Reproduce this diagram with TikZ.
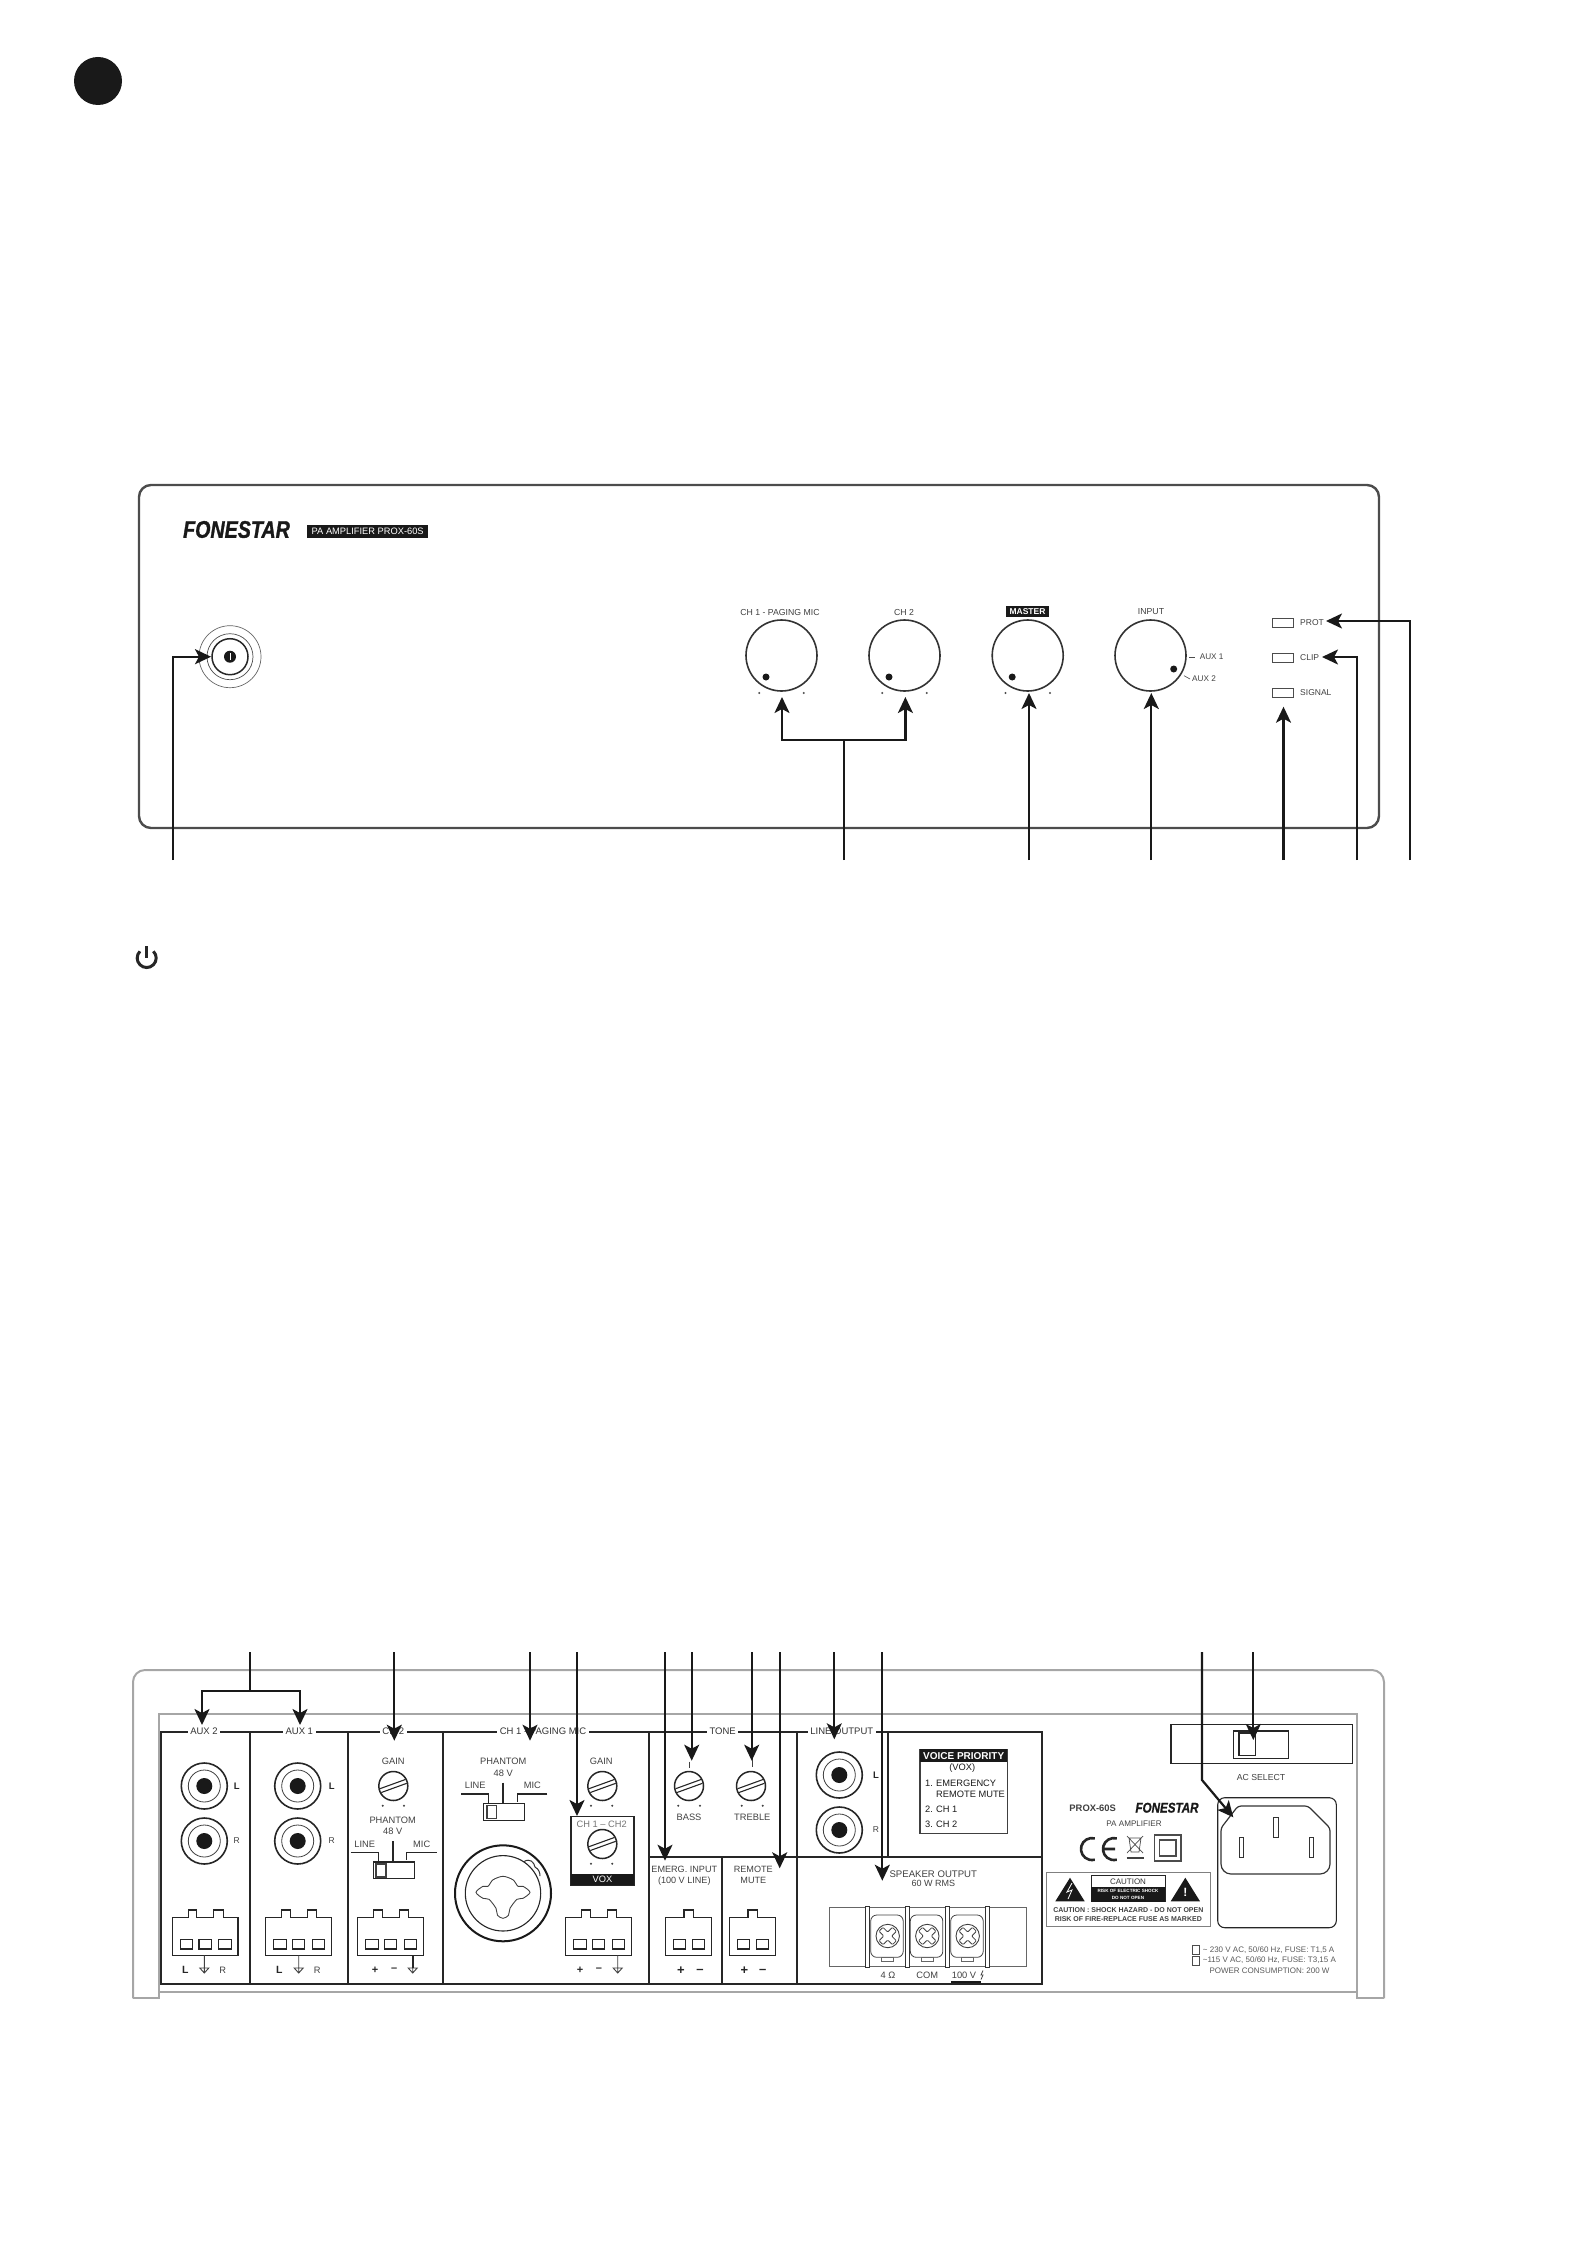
\documentclass[tikz,border=0pt]{standalone}
\usepackage{fontspec}
\setmainfont{Liberation Sans}
\newfontfamily\logofont[BoldItalicFeatures={FakeBold=1.4}]{Liberation Sans}
\usetikzlibrary{arrows.meta,calc}
\tikzset{
  callout/.style={line width=2.2pt,black!90,-{Stealth[length=16pt,width=15pt,inset=4pt]}},
  bracket/.style={line width=2.2pt,black!90},
  shell/.style={line width=2pt,black!35},
  frameline/.style={line width=2pt,black!85},
  thinline/.style={line width=1.1pt,black!85},
  lbl/.style={font=\fontsize{9.3}{10}\selectfont,text=black!75,inner sep=0pt},
  smalllbl/.style={font=\fontsize{8.5}{10}\selectfont,text=black!75,inner sep=0pt},
  boldlbl/.style={font=\fontsize{9.5}{10}\selectfont\bfseries,text=black!85,inner sep=0pt},
  toplbl/.style={font=\fontsize{9.5}{10}\selectfont,text=black!80,fill=white,inner xsep=2.5pt,inner ysep=1pt},
  logo/.style={font=\logofont\fontsize{#1}{#1}\selectfont\bfseries\itshape,text=black!90,inner sep=0pt},
  invert/.style={fill=black!90,text=white,inner sep=0pt,font=\fontsize{#1}{10}\selectfont\bfseries},
}

\begin{document}
\begin{tikzpicture}[x=1pt,y=-1pt]
            \useasboundingbox (0,0) rectangle (1587,2245);

            % Draw the section mark and the power sign
            \fill[black!90] (98,81) circle (24pt);
            \draw[line width=3pt,black!85] (153.4,951.3) arc (45:-225:9.5pt);
            \draw[line width=3pt,black!85] (146.7,946) -- (146.7,958);

            % Draw the front panel
            \draw[line width=2.4pt,black!70,rounded corners=12pt] (139,485) rectangle (1379,828);
            \node[logo=24,xscale=.82] (frontlogo) at (236.5,529.5) {FONESTAR};
            \node[invert=9.3,minimum width=120.5pt,minimum height=13pt,font=\fontsize{9.3}{10}\selectfont] (frontmodel) at (367.7,531.5) {PA AMPLIFIER PROX-60S};

            % Draw the power button
            \draw[line width=.7pt,black!60] (230,656.7) circle (31pt);
            \draw[line width=.7pt,black!70] (230,656.7) circle (23pt);
            \draw[line width=1.5pt,black!85] (230,656.7) circle (18pt);
            \fill[black!90] (230,656.7) circle (6pt);
            \draw[white,line width=.8pt] (230,653) -- (230,660);

            % Draw the knobs
            \foreach \x in {781.5,904.5,1027.7,1150.5} {
              \draw[line width=1.6pt,black!80] (\x,655.5) circle (35.5pt);
            }
            \foreach \x in {781.5,904.5,1027.7} {
              \fill[black!90] (\x-15.5,677) circle (3.5pt);
              \fill[black!70] (\x-22.3,693) circle (1.1pt);
              \fill[black!70] (\x+22.3,693) circle (1.1pt);
            }
            \fill[black!90] (1173.7,669) circle (3.5pt);
            \draw[line width=.6pt,black!70] (1189,657) -- (1195,657);
            \draw[line width=.6pt,black!70] (1184,675.7) -- (1190,679);

            % Add labels for the knobs
            \node[lbl,font=\fontsize{8.7}{10}\selectfont] (labelchone) at (780,612) {CH 1 - PAGING MIC};
            \node[lbl,font=\fontsize{8.7}{10}\selectfont] (labelchtwo) at (904,612) {CH 2};
            \node[invert=8.5,minimum width=43pt,minimum height=11pt] (labelmaster) at (1027.5,611.3) {MASTER};
            \node[lbl,font=\fontsize{8.7}{10}\selectfont] (labelinput) at (1151,611.5) {INPUT};
            \node[smalllbl,anchor=west,font=\fontsize{8.2}{10}\selectfont] (labelauxone) at (1199.6,657) {AUX 1};
            \node[smalllbl,anchor=west,font=\fontsize{8.2}{10}\selectfont] (labelauxtwo) at (1192,679) {AUX 2};

            % Draw the LEDs
            \foreach \name/\y/\txt in {prot/622.5/PROT,clip/657.5/CLIP,signal/692.5/SIGNAL} {
              \draw[line width=.9pt,black!70] (1272,\y-4.5) rectangle (1293,\y+4.5);
              \node[smalllbl,anchor=west] (led\name) at (1300,\y) {\txt};
            }

            % Draw the rear shell
            \draw[shell,rounded corners=12pt] (133,1998.3) -- (133,1670) -- (1384,1670) -- (1384,1998.3);
            \draw[shell] (133,1998.3) -- (159.3,1998.3) -- (159.3,1714) -- (1357,1714) -- (1357,1998.3) -- (1384,1998.3);
            \draw[shell] (159.3,1991.7) -- (1357,1991.7);

            % Draw the frame of the connector field
            \draw[frameline] (161.3,1731.7) rectangle (1041.7,1984);
            \foreach \x in {250.3,348.3,443,649,797.3} {
              \draw[frameline] (\x,1731.7) -- (\x,1984);
            }
            \draw[frameline] (888.3,1731.7) -- (888.3,1857.3);
            \draw[frameline] (722.3,1857.3) -- (722.3,1984);
            \draw[frameline] (649,1857.3) -- (1041.7,1857.3);

            % Add labels on the top edge of the frame
            \foreach \name/\x/\txt in {auxtwo/204/AUX 2,auxone/299.3/AUX 1,chtwo/393.3/CH 2,chone/543/CH 1 - PAGING MIC,tone/722.7/TONE,lineout/841.8/LINE OUTPUT} {
              \node[toplbl] (top\name) at (\x,1731.7) {\txt};
            }

            % Draw the RCA sockets
            \foreach \name/\x/\y in {atl/204.3/1786,atr/204.3/1841,aol/297.7/1786,aor/297.7/1841,lol/839.3/1775,lor/839.3/1830} {
              \draw[line width=1.6pt,black!85] (\x,\y) circle (23pt);
              \draw[line width=.8pt,black!75] (\x,\y) circle (16pt);
              \fill[black!90] (\x,\y) circle (8pt);
            }
            \foreach \name/\x/\y in {atl/236.7/1786,aol/331.7/1786,lol/876/1775} {
              \node[boldlbl] (letterL\name) at (\x,\y) {L};
            }
            \foreach \name/\x/\y in {atr/236.7/1841,aor/331.7/1841,lor/876/1830} {
              \node[lbl,font=\fontsize{8.5}{10}\selectfont] (letterR\name) at (\x,\y) {R};
            }

            % Draw the terminal blocks
            \foreach \x in {172.3,265.7,357.7,565.7} {
              \draw[thinline] (\x,1917.7) -- (\x+16,1917.7) -- (\x+16,1910) -- (\x+24.4,1910) -- (\x+24.4,1917.7) -- (\x+41.4,1917.7) -- (\x+41.4,1910) -- (\x+51,1910) -- (\x+51,1917.7) -- (\x+65.7,1917.7) -- (\x+65.7,1955.3) -- (\x,1955.3) -- cycle;
              \foreach \d in {8,26.7,46.5} {
                \draw[thinline] (\x+\d,1939.3) rectangle (\x+\d+12.5,1949);
              }
            }
            \foreach \x in {665.7,729.7} {
              \draw[thinline] (\x,1917.7) -- (\x+18.3,1917.7) -- (\x+18.3,1910) -- (\x+27.5,1910) -- (\x+27.5,1917.7) -- (\x+46,1917.7) -- (\x+46,1955.3) -- (\x,1955.3) -- cycle;
              \foreach \d in {7.6,26.6} {
                \draw[thinline] (\x+\d,1939.3) rectangle (\x+\d+12.5,1949);
              }
            }

            % Add marks below the terminal blocks
            \foreach \x in {204.3,298.7,412.7,617.7} {
              \draw[line width=.9pt,black!75] (\x,1955.3) -- (\x,1973) (\x-4.5,1968) -- (\x+4.5,1968) -- (\x,1973) -- cycle;
            }
            \draw[line width=2pt,black!85] (412.7,1955.3) -- (412.7,1968);
            \foreach \name/\x/\txt in {auxtwol/185.3/L,auxonel/279.3/L} {
              \node[boldlbl,font=\fontsize{10.5}{10}\selectfont\bfseries] (pin\name) at (\x,1970) {\txt};
            }
            \foreach \name/\x/\txt in {auxtwor/222.7/R,auxoner/317.3/R} {
              \node[lbl] (pin\name) at (\x,1970) {\txt};
            }
            \foreach \name/\x/\y/\txt in {a/375/1970/+,b/394.3/1970/--,c/580/1970/+,d/599/1970/--} {
              \node[boldlbl,font=\fontsize{11}{10}\selectfont\bfseries] (sign\name) at (\x,\y) {\txt};
            }
            \foreach \name/\x/\y/\txt in {e/681/1971/+,f/700/1971/--,g/744.3/1971/+,h/762.7/1971/--} {
              \node[boldlbl,font=\fontsize{13}{10}\selectfont\bfseries] (sign\name) at (\x,\y) {\txt};
            }

            % Draw the gain and tone pots
            \foreach \x/\y/\dl/\dr in {393.3/1786/382.7/404,602.3/1786/591/612.3,689/1786/678.3/700,751/1786/741.7/762.7,602.3/1844/591/612.3} {
              \draw[line width=1.5pt,black!85] (\x,\y) circle (14.5pt);
              \draw[thinline,shift={(\x,\y)}] (-12,6.5) -- (13.4,-2.7) (-13.4,2.7) -- (12,-6.5);
              \fill[black!75] (\dl,\y+19.7) circle (1.1pt);
              \fill[black!75] (\dr,\y+19.7) circle (1.1pt);
            }
            \draw[line width=.9pt,black!75] (689,1761.7) -- (689,1767.7);
            \draw[line width=.9pt,black!75] (752,1758) -- (752,1767);

            % Add labels for the pots
            \node[lbl] (gaintwo) at (393.3,1761) {GAIN};
            \node[lbl] (gainone) at (601.3,1761.7) {GAIN};
            \node[lbl] (bass) at (689,1817.7) {BASS};
            \node[lbl] (treble) at (752.3,1817.7) {TREBLE};

            % Draw the phantom switches
            \foreach \name/\x/\y in {two/392.7/1820,one/503.3/1761.7} {
              \node[lbl] (phantom\name) at (\x,\y) {PHANTOM};
              \node[lbl] (volts\name) at (\x,\y+11.7) {48 V};
              \node[lbl] (line\name) at (\x-28,\y+24) {LINE};
              \node[lbl] (mic\name) at (\x+29,\y+24) {MIC};
              \draw[thinline] (\x-42,\y+32.3) -- (\x-14.4,\y+32.3) -- (\x-14.4,\y+41);
              \draw[thinline] (\x+44,\y+32.3) -- (\x+14,\y+32.3) -- (\x+14,\y+40);
              \draw[line width=1.8pt,black!85] (\x,\y+21) -- (\x,\y+41);
              \draw[thinline] (\x-19.4,\y+42) rectangle (\x+21.6,\y+58.7);
              \draw[line width=1.5pt,black!75] (\x-16.5,\y+44) rectangle (\x-6.8,\y+57);
            }

            % Draw the combo socket
            \draw[line width=2pt,black!90] (503,1893.3) circle (48pt);
            \draw[line width=1.1pt,black!85] (503,1893.3) circle (37.7pt);
            \draw[line width=1pt,black!80] (524,1861.5) .. controls (530,1858) and (534,1862) .. (535,1867) .. controls (539,1869) and (540,1873) .. (540,1876);
            \draw[line width=.9pt,black!75] plot[smooth cycle] coordinates {(503,1876.3) (513,1879.8) (518,1886.3) (523,1886.3) (530,1892.3) (523,1898.3) (517,1899.3) (510,1908.3) (508.5,1915.3) (503,1918.3) (497.5,1915.3) (496,1908.3) (489,1899.3) (483,1898.3) (476,1892.3) (483,1886.3) (488,1886.3) (493,1879.8)};

            % Draw the VOX box
            \draw[thinline] (571,1816.3) rectangle (634,1885.3);
            \node[invert=9.3,minimum width=63pt,minimum height=11.3pt,font=\fontsize{9.3}{10}\selectfont] (voxstrip) at (602.5,1879.6) {VOX};
            \node[lbl,text=black!55] (voxlabel) at (601.7,1824) {CH 1 -- CH2};

            % Add labels for the lower sections
            \node[lbl,font=\fontsize{9.1}{10}\selectfont] (emerg) at (684.3,1869) {EMERG. INPUT};
            \node[lbl,font=\fontsize{9.1}{10}\selectfont] (emergline) at (684.3,1880.7) {(100 V LINE)};
            \node[lbl,font=\fontsize{9.1}{10}\selectfont] (remote) at (753.3,1869) {REMOTE};
            \node[lbl,font=\fontsize{9.1}{10}\selectfont] (mute) at (753.3,1880.7) {MUTE};

            % Draw the voice priority box
            \draw[line width=1.2pt,black!75] (920,1749.3) rectangle (1007.3,1833.3);
            \node[invert=10,minimum width=87.3pt,minimum height=12.7pt] (voicehead) at (963.7,1755.7) {VOICE PRIORITY};
            \node[lbl,text=black!90] (voicevox) at (962.3,1768) {(VOX)};
            \node[lbl,anchor=west,text=black!90] (voicea) at (925,1783.3) {1.};
            \node[lbl,anchor=west,text=black!90] (voiceb) at (936,1783.3) {EMERGENCY};
            \node[lbl,anchor=west,text=black!90] (voicec) at (936,1794.3) {REMOTE MUTE};
            \node[lbl,anchor=west,text=black!90] (voiced) at (925,1809) {2.};
            \node[lbl,anchor=west,text=black!90] (voicee) at (936,1809) {CH 1};
            \node[lbl,anchor=west,text=black!90] (voicef) at (925,1824) {3.};
            \node[lbl,anchor=west,text=black!90] (voiceg) at (936,1824) {CH 2};

            % Draw the speaker terminals
            \node[lbl,font=\fontsize{9.6}{10}\selectfont] (speaker) at (933.3,1874) {SPEAKER OUTPUT};
            \node[lbl,font=\fontsize{9}{10}\selectfont] (speakerrms) at (933.3,1883.6) {60 W RMS};
            \draw[line width=.8pt,black!60] (829.3,1907) rectangle (1026.7,1966);
            \foreach \x in {887.7,927.3,967.7} {
              \draw[line width=.8pt,black!75,rounded corners=6pt] (\x-17,1915) rectangle (\x+15.5,1957.3);
              \draw[line width=.7pt,black!60] (\x-6,1957.3) rectangle (\x+6,1961);
              \draw[line width=.9pt,black!75] (\x,1936) circle (11.7pt);
              \draw[line width=.8pt,black!75,rounded corners=1pt,shift={(\x,1936)},rotate=45] (2.8,2.8) -- (9.5,2.8) -- (9.5,-2.8) -- (2.8,-2.8) -- (2.8,-9.5) -- (-2.8,-9.5) -- (-2.8,-2.8) -- (-9.5,-2.8) -- (-9.5,2.8) -- (-2.8,2.8) -- (-2.8,9.5) -- (2.8,9.5) -- cycle;
            }
            \foreach \x in {867.7,907,947,987} {
              \draw[line width=.9pt,black!80,fill=white] (\x-2,1906) rectangle (\x+2,1967.7);
            }
            \node[lbl] (termfour) at (888,1975) {4 Ω};
            \node[lbl] (termcom) at (927.3,1975) {COM};
            \node[lbl] (termhund) at (964,1975) {100 V};
            \draw[line width=.8pt,black!75] (983,1970.5) -- (981,1975) -- (983,1975) -- (981,1979.5);
            \draw[line width=1.8pt,black!90] (951,1981.7) -- (981,1981.7);

            % Draw the AC select box
            \draw[thinline] (1171,1724.7) rectangle (1352.7,1763.7);
            \draw[thinline] (1233.3,1731) rectangle (1288.7,1758.3);
            \draw[thinline] (1239,1733) rectangle (1255.3,1755.3);
            \node[lbl,font=\fontsize{8.7}{10}\selectfont] (acselect) at (1261,1777.3) {AC SELECT};

            % Draw the rear logo and the marks
            \node[lbl,font=\fontsize{9.4}{10}\selectfont\bfseries] (rearmodel) at (1092.7,1808.7) {PROX-60S};
            \node[logo=14,xscale=.83] (rearlogo) at (1167,1807.7) {FONESTAR};
            \node[lbl,font=\fontsize{8.1}{10}\selectfont] (rearpa) at (1134,1823.7) {PA AMPLIFIER};
            \draw[line width=2.6pt,black!85] (1094.8,1838.4) arc (75:285:11pt);
            \draw[line width=2.6pt,black!85] (1116.8,1838.4) arc (75:285:11pt) (1104,1849) -- (1115,1849);
            \draw[line width=.7pt,black!70] (1129,1838) -- (1131,1852) -- (1139,1852) -- (1141,1838) -- cycle (1127,1836) -- (1143,1853) (1143,1836) -- (1127,1853);
            \draw[line width=2pt,black!75] (1126.7,1858.3) -- (1144,1858.3);
            \draw[line width=1.6pt,black!70] (1154.3,1834.7) rectangle (1181,1860.7);
            \draw[line width=1.6pt,black!70] (1159.3,1840) rectangle (1176,1855.7);

            % Draw the caution box
            \draw[line width=1pt,black!50] (1046,1872.3) rectangle (1210,1926.3);
            \fill[black!90] (1055.3,1901.3) -- (1070,1877.7) -- (1084.7,1901.3) -- cycle;
            \draw[white,line width=.8pt] (1072,1883) -- (1067,1892) -- (1072,1890) -- (1068,1899);
            \fill[black!90] (1170.7,1901.3) -- (1185.3,1877.7) -- (1200,1901.3) -- cycle;
            \node[inner sep=0pt,text=white,font=\fontsize{12}{12}\selectfont\bfseries] (warnmark) at (1185.3,1892.5) {!};
            \draw[line width=.9pt,black!85] (1091,1875.3) rectangle (1165.3,1901.7);
            \fill[black!90] (1091,1886.7) rectangle (1165.3,1901.7);
            \node[lbl,font=\fontsize{8}{9}\selectfont,text=black!80] (cautionhead) at (1128,1881.4) {CAUTION};
            \node[inner sep=0pt,text=white,font=\fontsize{4.6}{5}\selectfont\bfseries] (cautionrisk) at (1128,1890.7) {RISK OF ELECTRIC SHOCK};
            \node[inner sep=0pt,text=white,font=\fontsize{4.6}{5}\selectfont\bfseries] (cautionopen) at (1128,1897.7) {DO NOT OPEN};
            \node[lbl,font=\fontsize{7}{8}\selectfont\bfseries] (cautiontext) at (1128.3,1910) {CAUTION : SHOCK HAZARD - DO NOT OPEN};
            \node[lbl,font=\fontsize{7}{8}\selectfont\bfseries] (cautionfuse) at (1128.3,1918.7) {RISK OF FIRE-REPLACE FUSE AS MARKED};

            % Draw the mains inlet
            \draw[thinline,rounded corners=7pt] (1217.7,1797.7) rectangle (1336.3,1927.7);
            \draw[line width=1.2pt,black!80,rounded corners=3pt] (1221,1828) -- (1238,1806) -- (1308,1806) -- (1330,1828) [rounded corners=10pt] -- (1330,1874) -- (1221,1874) [rounded corners=3pt] -- cycle;
            \draw[line width=.9pt,black!80] (1239,1837.7) rectangle (1243.3,1857);
            \draw[line width=.9pt,black!80] (1273.3,1817.7) rectangle (1278.3,1837);
            \draw[line width=.9pt,black!80] (1309,1837.7) rectangle (1313,1857);

            % Add the mains ratings
            \draw[line width=.8pt,black!70] (1192,1945.7) rectangle (1199.3,1954.3);
            \draw[line width=.8pt,black!70] (1192,1956.3) rectangle (1199.3,1965);
            \node[lbl,anchor=west,font=\fontsize{8}{9}\selectfont,text=black!65] (ratinga) at (1202.7,1950) {\textasciitilde\ 230 V AC, 50/60 Hz, FUSE: T1,5 A};
            \node[lbl,anchor=west,font=\fontsize{8}{9}\selectfont,text=black!65] (ratingb) at (1202.7,1960.3) {\textasciitilde115 V AC, 50/60 Hz, FUSE: T3,15 A};
            \node[lbl,anchor=west,font=\fontsize{8}{9}\selectfont,text=black!65] (ratingc) at (1209.3,1970.3) {POWER CONSUMPTION: 200 W};

            % Draw the front arrows
            \coordinate (frontstart) at (173,860);
            \coordinate (frontpower) at (211,656.7);
            \draw[callout] (frontstart) |- (frontpower);
            \coordinate (gainfoot) at (844,860);
            \coordinate (gainjoin) at (844,740);
            \coordinate (gainleft) at (782,697);
            \coordinate (gainright) at (905.4,697);
            \draw[bracket] (gainfoot) -- (gainjoin);
            \draw[callout] (gainjoin) -| (gainleft);
            \draw[callout] (gainjoin) -| (gainright);
            \foreach \name/\x/\y in {master/1029/693,input/1151.3/693,signal/1283.5/706.7} {
              \coordinate (foot\name) at (\x,860);
              \coordinate (tip\name) at (\x,\y);
              \draw[callout] (foot\name) -- (tip\name);
            }
            \coordinate (footclip) at (1357,860);
            \coordinate (tipclip) at (1322,657);
            \draw[callout] (footclip) |- (tipclip);
            \coordinate (footprot) at (1410,860);
            \coordinate (tipprot) at (1326,621);
            \draw[callout] (footprot) |- (tipprot);

            % Draw the rear arrows
            \coordinate (auxstart) at (250.3,1652);
            \coordinate (auxjoin) at (250.3,1690.7);
            \coordinate (auxleft) at (202,1725);
            \coordinate (auxright) at (300,1725);
            \draw[bracket] (auxstart) -- (auxjoin);
            \draw[callout] (auxjoin) -| (auxleft);
            \draw[callout] (auxjoin) -| (auxright);
            \foreach \name/\x/\y in {chtwo/394.3/1740.7,chone/530/1740.7,vox/577/1816,emerg/665/1860.7,bass/691.7/1760.7,treble/751.7/1760.7,remote/779.7/1868.3,lineout/834.3/1739.3,speaker/882.3/1880.7,acsel/1253.3/1740} {
              \coordinate (start\name) at (\x,1652);
              \coordinate (point\name) at (\x,\y);
              \draw[callout] (start\name) -- (point\name);
            }
            \coordinate (inletstart) at (1202,1652);
            \coordinate (inletbend) at (1202,1780);
            \coordinate (inletpoint) at (1233.3,1817.3);
            \draw[callout] (inletstart) -- (inletbend) -- (inletpoint);
\end{tikzpicture}
\end{document}
